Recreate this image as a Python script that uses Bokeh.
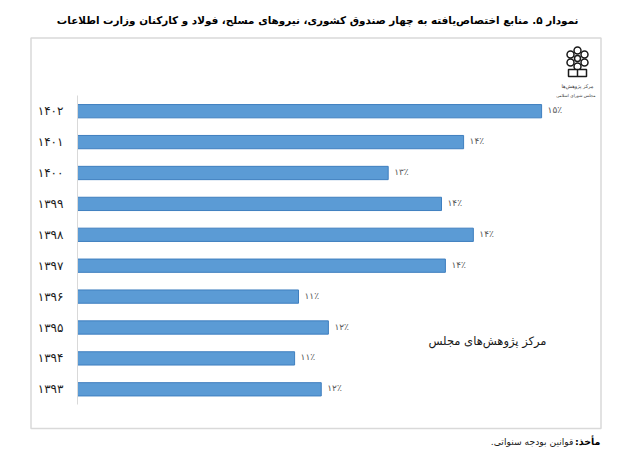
from bokeh.plotting import figure
from bokeh.models import Range1d, FixedTicker, Label, ColumnDataSource
from bokeh.core.properties import value
from bokeh.embed import file_html
from bokeh.resources import INLINE

years = ["۱۳۹۳", "۱۳۹۴", "۱۳۹۵", "۱۳۹۶", "۱۳۹۷", "۱۳۹۸", "۱۳۹۹", "۱۴۰۰", "۱۴۰۱", "۱۴۰۲"]
shares = [11.75, 11.34, 11.86, 11.40, 13.66, 14.09, 13.60, 12.78, 13.94, 15.14]
share_labels = ["۱۲٪", "۱۱٪", "۱۲٪", "۱۱٪", "۱۴٪", "۱۴٪", "۱۴٪", "۱۳٪", "۱۴٪", "۱۵٪"]
title_text = "نمودار ۵. منابع اختصاص‌یافته به چهار صندوق کشوری، نیروهای مسلح، فولاد و کارکنان وزارت اطلاعات"
watermark = "مرکز پژوهش‌های مجلس"
source_bold = "\u200fمأخذ:\u200f"
source_text = "\u200fقوانین بودجه سنواتی.\u200f"
logo_top = "مرکز پژوهش‌ها"
logo_bottom = "مجلس شورای اسلامی"

FONT = "DejaVu Sans"
AXIS_BASE = 8.0

W, H = 613, 454
L, R, T, B = 30.5, 600.5, 37.5, 428
X0_PX, PX_PER_PCT = 77, 65.0
Y0_PX, PX_PER_ROW = 388.8, 30.9

def dx(px):
    return AXIS_BASE + (px - X0_PX) / PX_PER_PCT

def dy(py):
    return (Y0_PX - py) / PX_PER_ROW

p = figure(width=W, height=H, output_backend="svg", toolbar_location=None,
           x_range=Range1d(dx(0), dx(W)), y_range=Range1d(dy(H), dy(0)),
           min_border=0, background_fill_color="white", border_fill_color="white")
p.grid.visible = False
p.xaxis.visible = False
p.outline_line_color = None

p.quad(left=[dx(L)], right=[dx(R)], top=[dy(T)], bottom=[dy(B)],
       fill_color="white", line_color="#d9d9d9", line_width=1.5)

ax = p.yaxis[0]
ax.fixed_location = AXIS_BASE
ax.bounds = (-0.5, 9.5)
ax.ticker = FixedTicker(ticks=list(range(len(years))))
ax.major_label_overrides = {i: y for i, y in enumerate(years)}
ax.axis_line_color = "#d9d9d9"
ax.major_tick_line_color = None
ax.minor_tick_line_color = None
ax.major_label_text_font = FONT
ax.major_label_text_font_size = "12px"
ax.major_label_text_color = "#1a1a1a"
ax.major_label_standoff = 8

src = ColumnDataSource(dict(y=list(range(len(years))), v=shares, t=share_labels))
p.hbar(y="y", left=AXIS_BASE, right="v", height=0.43, source=src,
       fill_color="#5b9bd5", line_color="#3f7fbf", line_width=1)
p.text(x="v", y="y", text="t", source=src, x_offset=6, y_offset=-1, text_align="left",
       text_baseline="middle", text_font=value(FONT), text_font_size="9px",
       text_color="#595959")

ring_x = [577, 584, 584, 577, 570, 570]
ring_y = [50, 54, 62, 66, 62, 54]
p.scatter([dx(v) for v in ring_x], [dy(v) for v in ring_y], size=7,
          fill_color="white", line_color="#1a1a1a", line_width=1.5)
p.scatter([dx(577)], [dy(58)], size=6, fill_color="white", line_color="#1a1a1a", line_width=1.5)
p.quad(left=[dx(568)], right=[dx(586)], top=[dy(69)], bottom=[dy(76)],
       fill_color="white", line_color="#1a1a1a", line_width=1.5)
p.segment([dx(577)], [dy(69)], [dx(577)], [dy(76)], line_color="#1a1a1a", line_width=1.5)

def lab(text, px, py, size, color="#000000", style="normal", align="right"):
    p.add_layout(Label(x=dx(px), y=dy(py), text=text,
                       text_font=FONT, text_font_size=size, text_color=color,
                       text_font_style=style, text_align=align, text_baseline="middle"))

lab(logo_top, 593, 85, "5px", "#333333")
lab(logo_bottom, 595, 95, "4.2px", "#333333")
lab(watermark, 546, 340, "11.5px", "#1a1a1a")
lab(title_text, 578, 19, "10.4px", "#000000", "bold")
lab(source_bold, 600, 441, "9.5px", "#000000", "bold")
lab(source_text, 573, 441, "9.2px", "#1a1a1a")

open("out.html", "w").write(file_html(p, INLINE))
